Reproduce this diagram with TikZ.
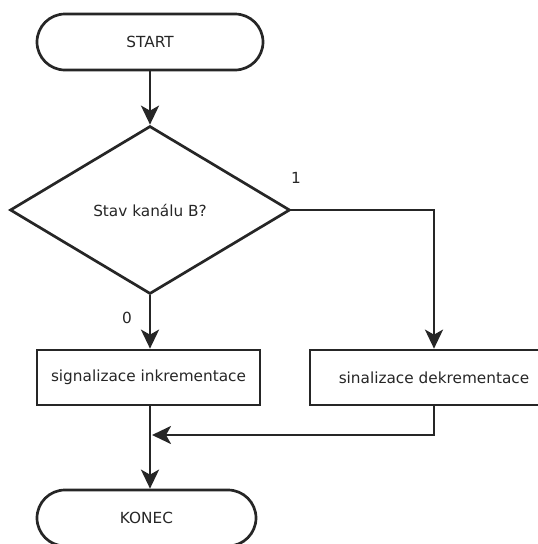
\documentclass[tikz,border=0pt]{standalone}
\usepackage{fontspec}
\setmainfont{DejaVu Sans}
\usetikzlibrary{arrows.meta, shapes.geometric, positioning}

\begin{document}
\begin{tikzpicture}[x=1pt, y=-1pt,
            every node/.style={font=\fontsize{15.3}{18}\selectfont, text=black!85},
            terminal/.style={draw=black!85, line width=2.7pt, rounded corners=28pt, minimum height=56pt, inner sep=0pt},
            decision/.style={diamond, draw=black!85, line width=2.7pt, minimum width=280pt, minimum height=168pt, inner sep=0pt},
            process/.style={rectangle, draw=black!85, line width=2.7pt, minimum height=55pt, inner sep=0pt},
            flow/.style={draw=black!85, line width=2.8pt, -{Stealth[length=19pt, width=18pt, inset=5pt]}}]
            \useasboundingbox (0,0) rectangle (538,544);
            \node[terminal, minimum width=226pt] (start) at (150,42) {START};
            \node[decision] (stav) at (150,210) {Stav kanálu B?};
            \node[] (jedna) at (296,178) {1};
            \node[] (nula) at (127,318) {0};
            \node[process, minimum width=223pt] (inkr) at (148.5,377.5) {signalizace inkrementace};
            \node[process, minimum width=248pt] (dekr) at (434,377.5) {sinalizace dekrementace\hspace{30pt}};
            \node[terminal, minimum width=219pt] (konec) at (146.5,518) {KONEC};
            \coordinate (spoj) at (152,435);
            % spojeni
            \draw[flow] (start) -- (stav);
            \draw[flow] (stav.south) -- (inkr.north -| stav.south);
            \draw[flow] (stav.east) -| (dekr.north);
            \draw[flow] (dekr.south) |- (spoj);
            \draw[flow] (inkr.south -| stav.south) -- (konec.north -| stav.south);
\end{tikzpicture}
\end{document}
